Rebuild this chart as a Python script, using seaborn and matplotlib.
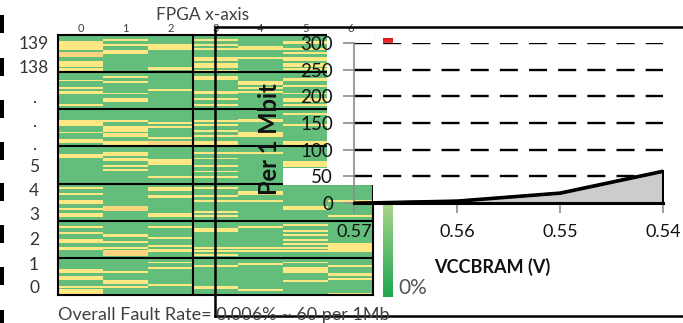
import numpy as np
import pandas as pd
import matplotlib
matplotlib.use("Agg")
import matplotlib.pyplot as plt
from matplotlib.colors import ListedColormap, LinearSegmentedColormap
from matplotlib.patches import Rectangle
from matplotlib.lines import Line2D
import seaborn as sns

sns.set_theme(style="white")
plt.rcParams['font.family'] = ['Lato', 'DejaVu Sans']
plt.rcParams['lines.scale_dashes'] = False

W, H = 683, 323

# ---- BRAM fault map: 7 FPGA columns, 140 rows in 7 blocks of 20 (top row first)
# '.' = fault free, 'y' = faulty, 'o' = heavily faulty
fpga_x = ["0", "1", "2", "3", "4", "5", "6"]
col0 = ["...yyyyy.ooo..yyy.yy", "....y...y.yy.....y..", "......yyy...y...yy..",
        "....yy..............", "..y..y...yy..y..yy..", "...y..y...yy..yy....",
        "......yy..yy...y.yyy"]
col1 = ["..y..y..yy..........", "..y..y.....y..yy....", "......y..yyy.yy..yy.",
        "...yy.yy..y.y.......", "............ooo.....", ".......yy..y..y.ooo.",
        ".......y....yy.y...."]
col2 = [".....yyy.........yy.", ".........y..........", ".......y.y.....y.oo.",
        ".......yyy......y...", "..yy..yy........yy..", "...y.....y...y.yy...",
        "..y..y........y....."]
col3 = ["..y..y.y....yy.yyy.y", "..yy......yy..y..y..", "......y.y..y..y..yy.",
        "...y..y...y..y..y...", "..y...y..y.....y.y..", "....yy........y.y.y.",
        "....y..........yy..."]
col4 = ["......yy....y.......", ".....yy.y.y.........", ".....yy.....yyy.....",
        "...y................", "....yy...y..........", "...y..........y.y...",
        "...y.............y.."]
col5 = ["...yy..y.y..yy.yy.y.", "...yy..y...y..yy.y..", "..y.....y........yy.",
        "........yyy.........", "............yy......", "..y..y.y..y.y.y.y...",
        "..y..yyy....y......."]
col6 = ["....y.........y.....", "..y.......y.........", "......y.....y.......",
        "...y.........y......", ".........y.......y..", "............yyyyy...",
        "....y...yy.y.......y"]
row_labels = ["139", "138", ".", ".", ".", "5", "4", "3", "2", "1", "0"]

# ---- fault rate vs. BRAM supply voltage
vccbram = [0.57, 0.56, 0.55, 0.54]
faults_per_mbit = [0, 4, 19, 60]
y_ticks = [0, 50, 100, 150, 200, 250, 300]

code = {".": 0, "y": 1, "o": 2}
columns = [col0, col1, col2, col3, col4, col5, col6]
grid = np.array([[code[c] for c in "".join(col)] for col in columns]).T
fault_df = pd.DataFrame(grid, index=list(range(139, -1, -1)), columns=fpga_x)


def box(x0, y0, x1, y1):
    return [x0 / W, 1 - y1 / H, (x1 - x0) / W, (y1 - y0) / H]


def fx(x):
    return x / W


def fy(y):
    return 1 - y / H


fig = plt.figure(figsize=(W / 100, H / 100), dpi=100)
fig.patch.set_facecolor("white")

# ---- heatmap
ax_hm = fig.add_axes(box(58, 35, 373, 295), zorder=1)
cmap_hm = ListedColormap(["#63BE7B", "#FFE784", "#FDD57F"])
sns.heatmap(fault_df, ax=ax_hm, cmap=cmap_hm, vmin=0, vmax=2, cbar=False,
            xticklabels=fpga_x, yticklabels=False, linewidths=0)
ax_hm.xaxis.tick_top()
ax_hm.tick_params(axis="x", length=0, labelsize=8, pad=1.0, colors="#404040")
ax_hm.tick_params(axis="y", length=0)
ax_hm.set_xlabel("")
ax_hm.set_ylabel("")
for k in range(1, 7):
    ax_hm.axhline(k * 20, color="black", lw=1.5)
ax_hm.axvline(3, color="black", lw=1.5)
for s in ax_hm.spines.values():
    s.set_visible(True)
    s.set_color("black")
    s.set_linewidth(1.5)

# row labels
row_y = [44, 68, 98, 122, 145, 167, 191, 215, 240, 265, 288]
for lab, yy in zip(row_labels, row_y):
    fig.text(fx(34), fy(yy), lab, ha="center", va="center", fontsize=12.5,
             color="#333333", zorder=6)

fig.text(fx(203), fy(15), "FPGA x-axis", ha="center", va="center",
         fontsize=12.5, color="#404040", zorder=6)
fig.text(fx(58), fy(320), "Overall Fault Rate= 0.006% ~ 60 per 1Mb",
         ha="left", va="baseline", fontsize=13, color="#404040", zorder=6)

# left edge markers
for y0 in [15, 58, 100, 142, 183, 225, 267, 310]:
    fig.add_artist(Rectangle((0, fy(y0 + 18)), fx(4), 18 / H,
                             transform=fig.transFigure, facecolor="black",
                             edgecolor="none", zorder=6))

# ---- colour scale bar
ax_cb = fig.add_axes(box(383, 38, 393, 297), zorder=1)
cb_cmap = LinearSegmentedColormap.from_list(
    "scale", [(0, "#1da64f"), (0.36, "#a9d58b"), (0.6, "#ffeb84"),
              (0.97, "#f05050"), (1, "#e01818")])
ax_cb.imshow(np.linspace(1, 0, 256)[:, None], aspect="auto", cmap=cb_cmap,
             extent=[0, 1, 0, 1])
ax_cb.axis("off")
fig.text(fx(398), fy(288), "0%", ha="left", va="center", fontsize=15,
         color="#555555", zorder=6)

# white chart background
for (x0, y0, x1, y1) in [(327, 33, 374, 185), (283, 168, 354, 185),
                         (373, 43, 665, 203)]:
    fig.add_artist(Rectangle((fx(x0), fy(y1)), (x1 - x0) / W, (y1 - y0) / H,
                             transform=fig.transFigure, facecolor="white",
                             edgecolor="none", zorder=2))

# ---- fault rate chart
ax = fig.add_axes(box(354, 43, 663, 203), zorder=3)
ax.set_facecolor("none")
ax.fill_between(vccbram, faults_per_mbit, 0, facecolor="#cccccc",
                edgecolor="black", lw=2.2, zorder=3)
sns.lineplot(x=vccbram, y=faults_per_mbit, ax=ax, color="black", lw=2.2,
             zorder=4)
ax.set_xlim(0.57, 0.54)
ax.set_ylim(0, 300)
ax.set_yticks(y_ticks)
ax.set_xticks(vccbram)
ax.set_xticklabels([f"{v:.2f}" for v in vccbram])
ax.yaxis.grid(True, color="black", lw=1.7, linestyle=(0, (13, 8)))
ax.set_axisbelow(True)
for s in ["top", "right"]:
    ax.spines[s].set_visible(False)
ax.spines["left"].set_color("#8c8c8c")
ax.spines["left"].set_linewidth(1.2)
ax.spines["bottom"].set_color("black")
ax.spines["bottom"].set_linewidth(2.2)
ax.tick_params(axis="y", length=8, width=1.2, color="#8c8c8c", pad=7,
               labelsize=13.5, labelcolor="#111111", left=True)
ax.tick_params(axis="x", length=7, width=1.2, color="#8c8c8c", pad=8,
               labelsize=13, labelcolor="#111111", bottom=True)
ax.set_ylabel("Per 1 Mbit", fontsize=17, fontweight="bold", color="#111111")
ax.yaxis.set_label_coords(-0.236, 0.40)
ax.set_xlabel("VCCBRAM (V)", fontsize=13, fontweight="bold", color="#111111")
ax.xaxis.set_label_coords(0.447, -0.344)

# outline frame of the chart
for (x0, y0, x1, y1) in [(215, 27, 683, 27), (215, 27, 215, 316),
                         (215, 316, 683, 316)]:
    fig.add_artist(Line2D([fx(x0), fx(x1)], [fy(y0), fy(y1)],
                          transform=fig.transFigure, color="black", lw=1.8,
                          zorder=5, solid_capstyle="projecting"))

fig.savefig("out.png", dpi=100, facecolor="white")
